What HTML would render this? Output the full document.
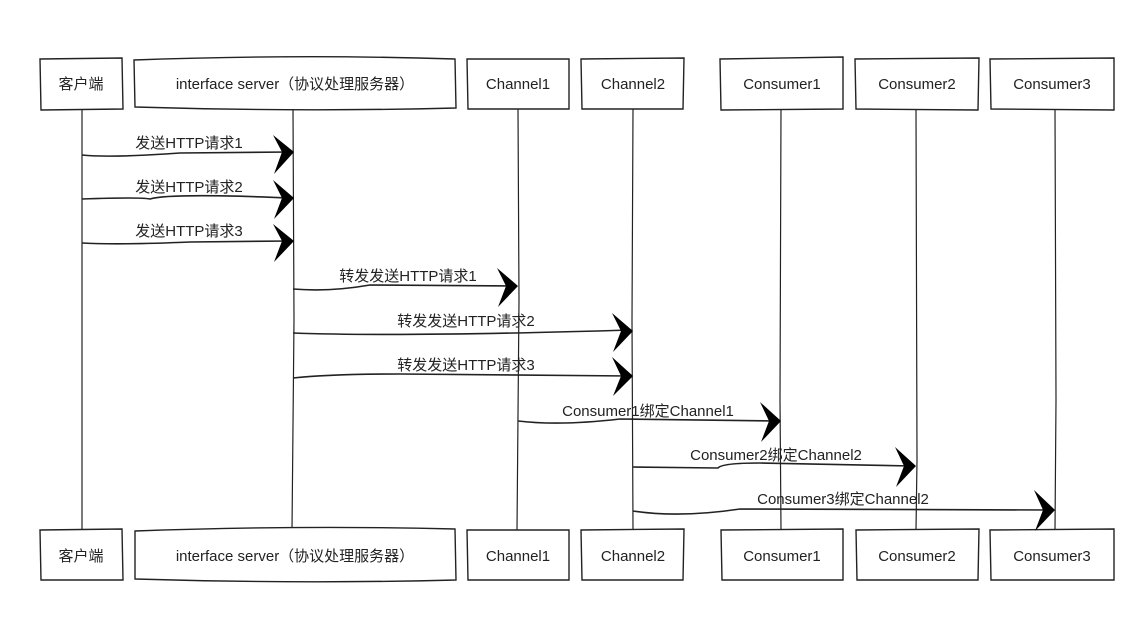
<!DOCTYPE html>
<html><head><meta charset="utf-8"><style>
html,body{margin:0;padding:0;background:#fff;}
svg{display:block}
text{font-family:"Liberation Sans","Noto Sans CJK SC",sans-serif;font-size:15px;fill:#222;}
.b{fill:#fff;stroke:#222;stroke-width:1.4}
.l{stroke:#222;stroke-width:1.2;fill:none}
.a{stroke:#222;stroke-width:1.6;fill:none}
.h{fill:#000}
</style></head><body>
<svg width="1146" height="625" viewBox="0 0 1146 625">
<!-- lifelines -->
<path class="l" d="M82 109 L82 530"/>
<path class="l" d="M293 109 L294 320 L292 530"/>
<path class="l" d="M518 109 L519 300 L517 530"/>
<path class="l" d="M633 109 L632 320 L633 530"/>
<path class="l" d="M781 109 L780 400 L781 530"/>
<path class="l" d="M916 109 L917 460 L916 530"/>
<path class="l" d="M1055 109 L1056 400 L1055 530"/>
<!-- top boxes -->
<g>
<path class="b" d="M40 59 L122 58 L123 109 L41 110 Z"/><text x="81" y="89" text-anchor="middle">客户端</text>
<path class="b" d="M134 60 Q300 54 455 59 L456 108 Q300 112 135 107 Z"/><text x="295" y="89" text-anchor="middle">interface server（协议处理服务器）</text>
<path class="b" d="M467 59 L569 59 L569 109 L468 109 Z"/><text x="518" y="89" text-anchor="middle">Channel1</text>
<path class="b" d="M581 59 L684 58 L683 109 L582 109 Z"/><text x="633" y="89" text-anchor="middle">Channel2</text>
<path class="b" d="M720 59 L843 57 L843 109 L721 110 Z"/><text x="782" y="89" text-anchor="middle">Consumer1</text>
<path class="b" d="M855 59 L979 58 L978 110 L856 109 Z"/><text x="917" y="89" text-anchor="middle">Consumer2</text>
<path class="b" d="M990 59 L1114 58 L1114 110 L991 109 Z"/><text x="1052" y="89" text-anchor="middle">Consumer3</text>
</g>
<!-- bottom boxes -->
<g>
<path class="b" d="M40 530 L122 529 L123 580 L41 580 Z"/><text x="81" y="561" text-anchor="middle">客户端</text>
<path class="b" d="M135 531 Q300 525 455 529 L456 580 Q300 584 135 579 Z"/><text x="295" y="561" text-anchor="middle">interface server（协议处理服务器）</text>
<path class="b" d="M467 530 L569 530 L569 580 L468 580 Z"/><text x="518" y="561" text-anchor="middle">Channel1</text>
<path class="b" d="M581 530 L684 529 L683 580 L582 580 Z"/><text x="633" y="561" text-anchor="middle">Channel2</text>
<path class="b" d="M721 530 L843 529 L843 580 L722 580 Z"/><text x="782" y="561" text-anchor="middle">Consumer1</text>
<path class="b" d="M856 530 L979 529 L978 580 L857 580 Z"/><text x="917" y="561" text-anchor="middle">Consumer2</text>
<path class="b" d="M990 530 L1114 529 L1114 580 L991 580 Z"/><text x="1052" y="561" text-anchor="middle">Consumer3</text>
</g>
<!-- messages -->
<path class="a" d="M82 155 Q110 158 180 153 L290 152"/>
<path class="h" d="M273 135 L294 152 L274 174 L282 152 Z"/>
<text x="189" y="148" text-anchor="middle">发送HTTP请求1</text>

<path class="a" d="M82 199 Q140 197 150 199 Q170 193 290 198"/>
<path class="h" d="M273 180 L294 198 L274 219 L282 198 Z"/>
<text x="189" y="192" text-anchor="middle">发送HTTP请求2</text>

<path class="a" d="M82 243 Q120 245 190 242 L290 241"/>
<path class="h" d="M273 224 L294 241 L274 262 L282 241 Z"/>
<text x="189" y="236" text-anchor="middle">发送HTTP请求3</text>

<path class="a" d="M293 289 Q330 292 370 285 L515 286"/>
<path class="h" d="M497 268 L518 286 L498 307 L506 286 Z"/>
<text x="408" y="281" text-anchor="middle">转发发送HTTP请求1</text>

<path class="a" d="M293 333 Q400 337 630 330"/>
<path class="h" d="M612 313 L633 331 L613 352 L621 331 Z"/>
<text x="466" y="326" text-anchor="middle">转发发送HTTP请求2</text>

<path class="a" d="M293 378 Q330 374 400 374 L630 376"/>
<path class="h" d="M612 357 L633 376 L613 396 L621 376 Z"/>
<text x="466" y="370" text-anchor="middle">转发发送HTTP请求3</text>

<path class="a" d="M518 421 Q560 426 620 419 L778 421"/>
<path class="h" d="M760 402 L781 421 L761 442 L769 421 Z"/>
<text x="648" y="416" text-anchor="middle">Consumer1绑定Channel1</text>

<path class="a" d="M633 467 L718 468 Q722 463 760 463 L913 466"/>
<path class="h" d="M895 447 L916 466 L896 487 L904 466 Z"/>
<text x="776" y="460" text-anchor="middle">Consumer2绑定Channel2</text>

<path class="a" d="M633 511 Q680 518 740 509 L1052 510"/>
<path class="h" d="M1034 490 L1055 510 L1035 531 L1043 510 Z"/>
<text x="843" y="504" text-anchor="middle">Consumer3绑定Channel2</text>
</svg>
</body></html>
